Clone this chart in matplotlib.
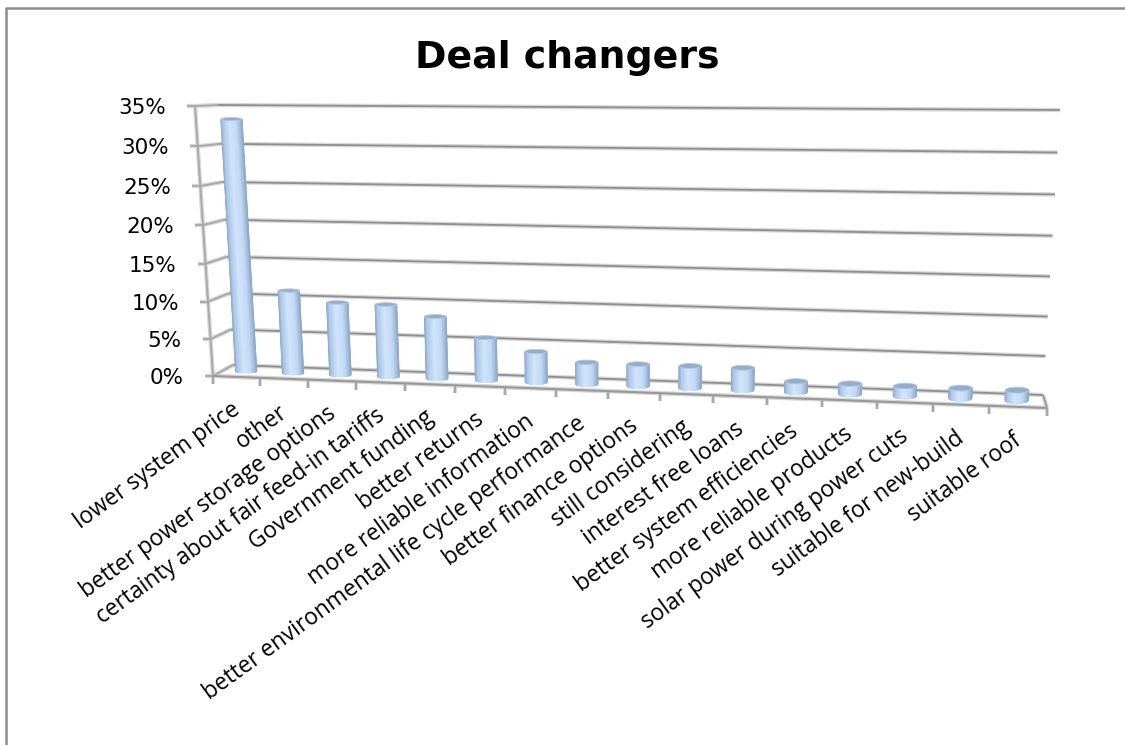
import numpy as np
import matplotlib
matplotlib.use('Agg')
import matplotlib.pyplot as plt
from matplotlib.colors import LinearSegmentedColormap
from matplotlib.patches import Polygon

categories = ['lower system price', 'other', 'better power storage options',
              'certainty about fair feed-in tariffs', 'Government funding',
              'better returns', 'more reliable information',
              'better environmental life cycle performance',
              'better finance options', 'still considering',
              'interest free loans', 'better system efficiencies',
              'more reliable products', 'solar power during power cuts',
              'suitable for new-build', 'suitable roof']
values = [33.3, 11.2, 9.8, 9.7, 8.3, 5.7, 4.1, 2.9, 2.9, 2.9, 2.9, 1.4, 1.35, 1.3, 1.3, 1.3]
y_ticks = [0, 5, 10, 15, 20, 25, 30, 35]
y_max = 35

# corners of the 3D box in pixels: back wall and front plane
back = {'bl': (233, 365), 'br': (1043, 395), 'tl': (218, 105), 'tr': (1060, 110)}
front = {'bl': (213, 376), 'br': (1047, 408), 'tl': (195, 106), 'tr': (1066, 108)}


def warp(x, k):
    return k * x / (1 + (k - 1) * x)


def project(u, v, t):
    # u along the categories 0-1, v in percent, t depth (0 back, 1 front)
    su = warp(u, 0.9)
    sv = warp(v / y_max, 0.95)
    pts = []
    for c in (back, front):
        bot = (1 - su) * np.array(c['bl']) + su * np.array(c['br'])
        top = (1 - su) * np.array(c['tl']) + su * np.array(c['tr'])
        pts.append((1 - sv) * bot + sv * top)
    return (1 - t) * pts[0] + t * pts[1]


def line(ax, p0, p1, color='#8f8f8f', lw=1.3, z=2):
    ax.plot([p0[0], p1[0]], [p0[1], p1[1]], color='#d8d8d8', lw=lw + 1.8, zorder=z, solid_capstyle='butt')
    ax.plot([p0[0], p1[0]], [p0[1], p1[1]], color=color, lw=lw, zorder=z + 0.1, solid_capstyle='butt')


fig = plt.figure(figsize=(11.25, 7.45), dpi=100)
ax = fig.add_axes([0, 0, 1, 1])
ax.set_xlim(0, 1125)
ax.set_ylim(745, 0)
ax.axis('off')

# chart frame, only left and top edges show
ax.plot([6, 6, 1125], [745, 8, 8], color='#8c8c8c', lw=1.8, zorder=1)

ax.text(567, 58, 'Deal changers', fontsize=27.3, fontweight='bold', family='DejaVu Sans',
        ha='center', va='center', color='black')

# gridlines and value axis
for v in y_ticks:
    fr = project(0, v, 1)
    bk = project(0, v, 0)
    line(ax, fr, bk, color='#a8a8a8')
    line(ax, bk, project(1, v, 0))
    line(ax, fr, fr - np.array([8, 0]), color='#a8a8a8')
    ax.text(fr[0] - 29, fr[1] + 2, f'{v}%', ha='right', va='center', fontsize=15.5, family='DejaVu Sans')
line(ax, project(0, 0, 1), project(0, y_max, 1), color='#a8a8a8')

# floor
line(ax, project(0, 0, 1), project(1, 0, 1), color='#999999', lw=1.5)
line(ax, project(1, 0, 0), project(1, 0, 1), color='#999999')
for i in range(len(categories) + 1):
    p = project(i / len(categories), 0, 1)
    line(ax, p, p + np.array([0, 8]), color='#9a9a9a', lw=1.1)

# cylinders
shade = LinearSegmentedColormap.from_list('cyl', [(0, '#8faad0'), (0.12, '#b0c9e8'), (0.42, '#d2e5fc'),
                                                  (0.75, '#c2d9f5'), (0.92, '#a3bddd'), (1, '#8ea8ca')])
s = np.linspace(-1, 1, 41)
for i, (name, val) in enumerate(zip(categories, values)):
    u = (i + 0.5) / len(categories)
    b = project(u, 0, 0.5)
    t = project(u, val, 0.5)
    r = 10.5 + 1.2 * u
    e = 1.5 + 1.5 * u
    arc = e * np.sqrt(1 - s ** 2)
    X = np.vstack([t[0] + r * s, b[0] + r * s])
    Y = np.vstack([t[1] + arc, b[1] + arc])
    ax.pcolormesh(X, Y, np.vstack([s, s]), cmap=shade, vmin=-1, vmax=1, shading='gouraud', zorder=5)
    ang = np.linspace(0, 2 * np.pi, 40)
    ax.add_patch(Polygon(np.column_stack([t[0] + r * np.cos(ang), t[1] + e * np.sin(ang)]),
                         facecolor='#93adcd', edgecolor='#b5c7dd', lw=0.6, zorder=6))
    # category label, right end sits under the bar
    lab = project(u, 0, 1)
    ax.text(lab[0] + 1, lab[1] + 31, name, rotation=36, rotation_mode='anchor', ha='right', va='center',
            fontsize=16.4, family='Open Sans', color='black', zorder=7)

fig.savefig('out.png', dpi=100)
